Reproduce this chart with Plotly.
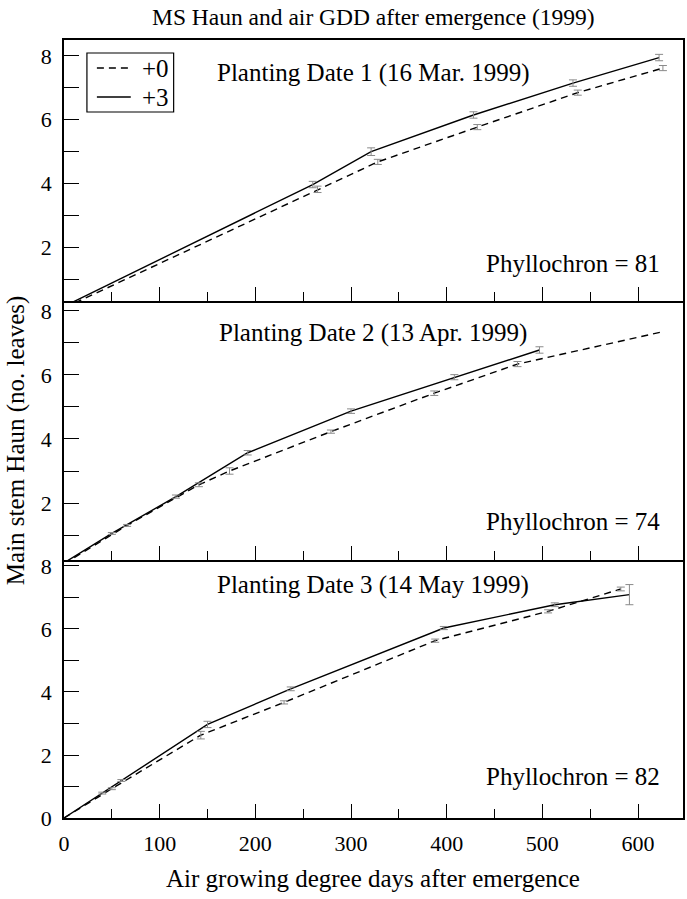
import plotly.graph_objects as go

# ---------------- data ----------------
# Planting date 1
p1_x_plus3 = [0, 260, 321, 428, 532, 622]
p1_y_plus3 = [0.15, 3.97, 5.0, 6.15, 7.15, 7.95]
p1_e_plus3 = [0, 0.10, 0.12, 0.10, 0.10, 0.10]
p1_x_plus0 = [0, 265, 328, 432, 537, 626]
p1_y_plus0 = [0.10, 3.82, 4.68, 5.77, 6.85, 7.62]
p1_e_plus0 = [0, 0.10, 0.08, 0.08, 0.08, 0.08]

# Planting date 2
p2_x_plus3 = [0, 50, 117, 192, 300, 408, 497]
p2_y_plus3 = [0.13, 1.05, 2.2, 3.57, 4.87, 5.93, 6.78]
p2_e_plus3 = [0, 0.03, 0.05, 0.07, 0.07, 0.08, 0.10]
p2_x_plus0 = [0, 66, 141, 173, 279, 387, 474, 626]
p2_y_plus0 = [0.10, 1.30, 2.57, 3.00, 4.23, 5.43, 6.34, 7.35]
p2_e_plus0 = [0, 0.03, 0.06, 0.10, 0.05, 0.07, 0.08, 0]

# Planting date 3
p3_x_plus3 = [0, 40, 60, 150, 237, 397, 513, 591]
p3_y_plus3 = [0, 0.79, 1.19, 2.97, 4.10, 6.03, 6.77, 7.09]
p3_e_plus3 = [0, 0.03, 0.03, 0.10, 0.06, 0.05, 0.06, 0.32]
p3_x_plus0 = [0, 50, 143, 230, 388, 506, 582]
p3_y_plus0 = [0, 0.93, 2.63, 3.67, 5.63, 6.56, 7.27]
p3_e_plus0 = [0, 0.03, 0.12, 0.05, 0.05, 0.05, 0.06]

panel_titles = ["Planting Date 1 (16 Mar. 1999)",
                "Planting Date 2 (13 Apr. 1999)",
                "Planting Date 3 (14 May 1999)"]
phyllochrons = [81, 74, 82]
series_names = ["+0", "+3"]

x_ticks = [0, 100, 200, 300, 400, 500, 600]

# ---------------- figure ----------------
FONT = '"Liberation Serif", "Times New Roman", Times, serif'
W, H = 687, 899
ML, MR, MT, MB = 64, 2, 40, 81
plot_w = W - ML - MR
plot_h = H - MT - MB
bottom_px = H - MB
DASH = "7px,5px"


def py2paper(py):
    return (bottom_px - py) / plot_h


def px2paper(px):
    return (px - ML) / plot_w


panel_px = [(40, 301), (301, 560), (560, 818)]
y_ranges = [[0.32, 8.5], [0.22, 8.31], [0.0, 8.19]]

panels = [
    (p1_x_plus0, p1_y_plus0, p1_e_plus0, p1_x_plus3, p1_y_plus3, p1_e_plus3),
    (p2_x_plus0, p2_y_plus0, p2_e_plus0, p2_x_plus3, p2_y_plus3, p2_e_plus3),
    (p3_x_plus0, p3_y_plus0, p3_e_plus0, p3_x_plus3, p3_y_plus3, p3_e_plus3),
]

fig = go.Figure()
err_color = "#8a8a8a"

for i, (x0, y0, e0, x3, y3, e3) in enumerate(panels):
    xa = "x" if i == 0 else f"x{i+1}"
    ya = "y" if i == 0 else f"y{i+1}"
    fig.add_trace(go.Scatter(x=x0, y=y0, mode="lines", name=series_names[0],
                             line=dict(color="black", width=1.4, dash=DASH),
                             xaxis=xa, yaxis=ya, showlegend=False))
    fig.add_trace(go.Scatter(x=x3, y=y3, mode="lines", name=series_names[1],
                             line=dict(color="black", width=1.4),
                             xaxis=xa, yaxis=ya, showlegend=False))
    for xs, ys, es in ((x0, y0, e0), (x3, y3, e3)):
        idx = [k for k, e in enumerate(es) if e > 0]
        fig.add_trace(go.Scatter(
            x=[xs[k] for k in idx], y=[ys[k] for k in idx], mode="markers",
            marker=dict(size=1, color="rgba(0,0,0,0)"),
            error_y=dict(type="data", array=[es[k] for k in idx], visible=True,
                         color=err_color, thickness=1, width=4),
            xaxis=xa, yaxis=ya, showlegend=False, hoverinfo="skip"))

layout = dict(
    width=W, height=H,
    margin=dict(l=ML, r=MR, t=MT, b=MB),
    paper_bgcolor="white", plot_bgcolor="white",
    font=dict(family=FONT, color="black", size=22),
    showlegend=False,
)

for i in range(3):
    top, bot = panel_px[i]
    dom = [py2paper(bot), py2paper(top)]
    xk = "xaxis" if i == 0 else f"xaxis{i+1}"
    yk = "yaxis" if i == 0 else f"yaxis{i+1}"
    ya = "y" if i == 0 else f"y{i+1}"
    xa = "x" if i == 0 else f"x{i+1}"
    last = (i == 2)
    layout[xk] = dict(
        domain=[0, 1], anchor=ya, range=[0, 647],
        tickvals=x_ticks, ticktext=[str(v) for v in x_ticks],
        showticklabels=last, ticks="inside", ticklen=14, tickwidth=1.3,
        tickcolor="black",
        minor=dict(ticks="inside", ticklen=9, tickwidth=1.3, dtick=50,
                   tick0=0, tickcolor="black", showgrid=False),
        showline=True, linecolor="black", linewidth=1.5, mirror=(i == 0),
        showgrid=False, zeroline=False,
        tickfont=dict(family=FONT, size=22, color="black"),
        ticklabelstandoff=5,
    )
    if last:
        yvals = list(range(0, 9))
    else:
        yvals = list(range(1, 9))
    layout[yk] = dict(
        domain=dom, anchor=xa, range=y_ranges[i],
        tickvals=yvals, ticktext=[str(v) if v % 2 == 0 else "" for v in yvals],
        ticks="inside", ticklen=15, tickwidth=1.3, tickcolor="black",
        showline=True, linecolor="black", linewidth=1.5, mirror=True,
        showgrid=False, zeroline=False,
        tickfont=dict(family=FONT, size=22, color="black"),
        ticklabelstandoff=6,
    )

fig.update_layout(**layout)

annotations = []
title_py = [73, 333, 585]
phyl_py = [263, 521, 776]
for i in range(3):
    annotations.append(dict(
        text=panel_titles[i], xref="paper", yref="paper",
        x=px2paper(374), y=py2paper(title_py[i]), xanchor="center", yanchor="middle",
        showarrow=False, font=dict(family=FONT, size=25, color="black")))
    annotations.append(dict(
        text=f"Phyllochron = {phyllochrons[i]}", xref="paper", yref="paper",
        x=px2paper(664), y=py2paper(phyl_py[i]), xanchor="right", yanchor="middle",
        showarrow=False, font=dict(family=FONT, size=25, color="black")))

annotations.append(dict(
    text="MS Haun and air GDD after emergence (1999)", xref="paper", yref="paper",
    x=px2paper(375), y=py2paper(17), xanchor="center", yanchor="middle",
    showarrow=False, font=dict(family=FONT, size=23.5, color="black")))
annotations.append(dict(
    text="Air growing degree days after emergence", xref="paper", yref="paper",
    x=px2paper(374), y=py2paper(878), xanchor="center", yanchor="middle",
    showarrow=False, font=dict(family=FONT, size=25, color="black")))
annotations.append(dict(
    text="Main stem Haun (no. leaves)", xref="paper", yref="paper",
    x=px2paper(16), y=py2paper(440), xanchor="center", yanchor="middle",
    textangle=-90, showarrow=False, font=dict(family=FONT, size=25, color="black")))

# legend box (drawn in panel 1)
leg_box = dict(x0=87, x1=174, y0=53, y1=112)
leg_rows = [(68, series_names[0], DASH), (97, series_names[1], "solid")]
shapes = [dict(type="rect", xref="paper", yref="paper",
               x0=px2paper(leg_box["x0"]), x1=px2paper(leg_box["x1"]),
               y0=py2paper(leg_box["y1"]), y1=py2paper(leg_box["y0"]),
               line=dict(color="black", width=1.2), fillcolor="white", layer="above")]
for yy, name, dash in leg_rows:
    shapes.append(dict(type="line", xref="paper", yref="paper",
                       x0=px2paper(97), x1=px2paper(131),
                       y0=py2paper(yy), y1=py2paper(yy),
                       line=dict(color="black", width=1.4, dash=dash), layer="above"))
    annotations.append(dict(text=name, xref="paper", yref="paper",
                            x=px2paper(140), y=py2paper(yy), xanchor="left",
                            yanchor="middle", showarrow=False,
                            font=dict(family=FONT, size=25, color="black")))

fig.update_layout(annotations=annotations, shapes=shapes)

fig.write_html(
    "out.html",
    config={"displayModeBar": False},
    post_script="document.body.style.margin='0';document.body.style.overflow='hidden';",
)
